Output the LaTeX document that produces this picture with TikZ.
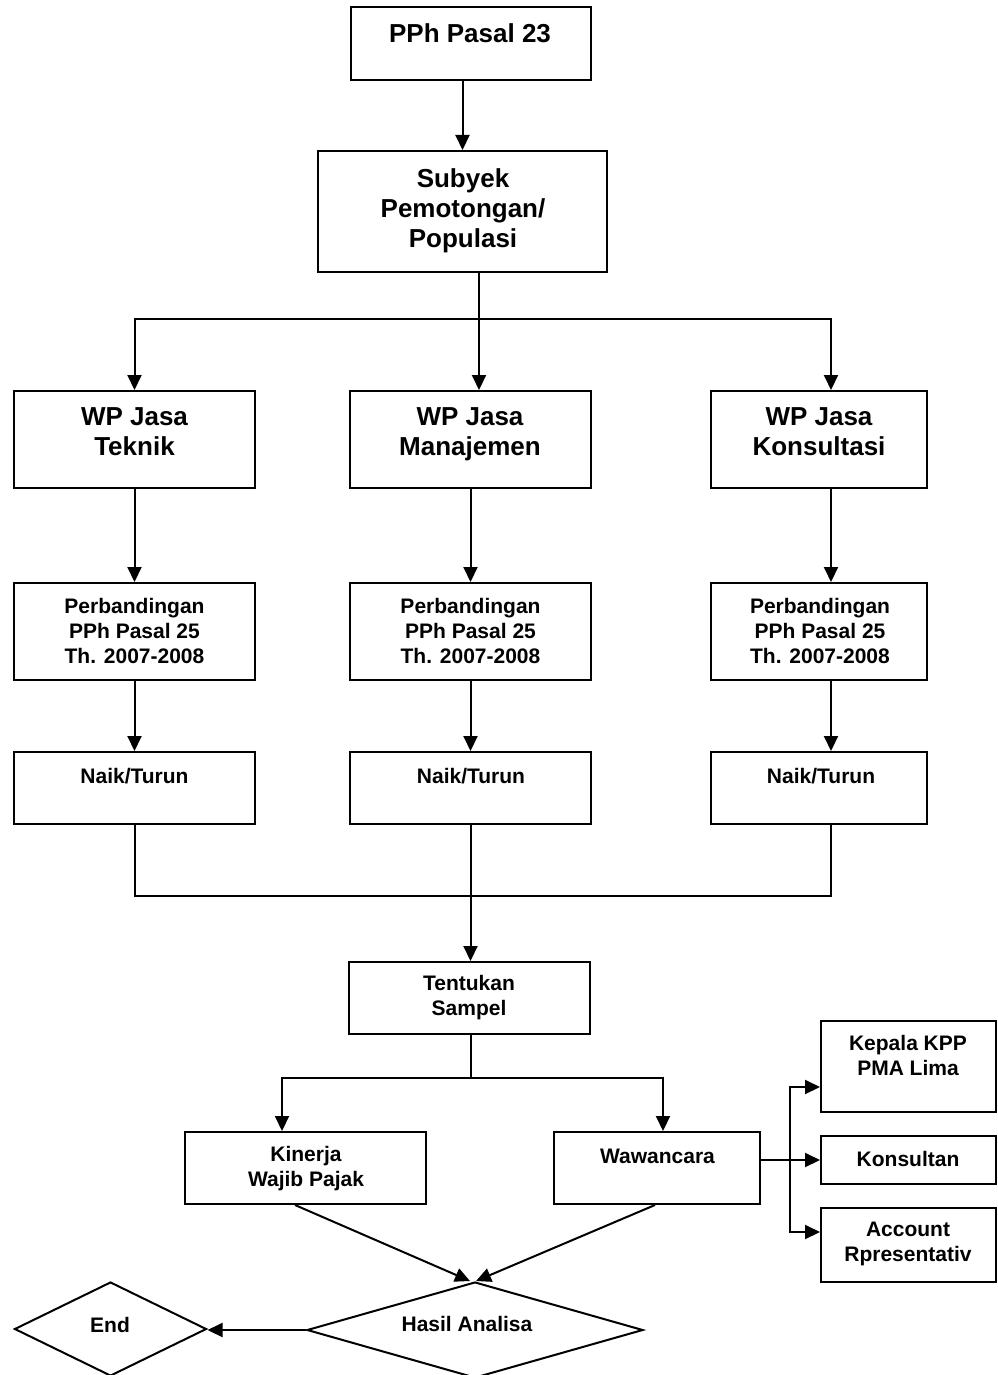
\documentclass[tikz,border=0pt]{standalone}
\usepackage{fontspec}
\setmainfont{Liberation Sans}
\usetikzlibrary{arrows.meta,shapes.geometric}
\begin{document}
\begin{tikzpicture}[x=1pt,y=-1pt,
  box/.style={draw, line width=2pt, rectangle, inner sep=0pt},
  dia/.style={draw, line width=2pt, diamond, inner sep=0pt},
  bigtxt/.style={font=\bfseries\fontsize{26}{30}\selectfont, align=center, inner sep=0pt,
    execute at begin node=\strut, execute at end node=\strut},
  smalltxt/.style={font=\bfseries\fontsize{21}{25}\selectfont, align=center, inner sep=0pt,
    execute at begin node=\strut, execute at end node=\strut},
  conn/.style={line width=2pt},
  arr/.style={line width=2pt, -{Triangle[length=15pt,width=14pt]}}]
\useasboundingbox (0,0) rectangle (997,1375);

% boxes
\node[box, minimum width=240pt, minimum height=73pt] (pph) at (471,43.5) {};
\node[box, minimum width=289pt, minimum height=121pt] (sub) at (462.5,211.5) {};
\node[box, minimum width=241pt, minimum height=97pt] (wp1) at (134.5,439.5) {};
\node[box, minimum width=241pt, minimum height=97pt] (wp2) at (470.5,439.5) {};
\node[box, minimum width=216pt, minimum height=97pt] (wp3) at (819,439.5) {};
\node[box, minimum width=241pt, minimum height=97pt] (pb1) at (134.5,631.5) {};
\node[box, minimum width=241pt, minimum height=97pt] (pb2) at (470.5,631.5) {};
\node[box, minimum width=216pt, minimum height=97pt] (pb3) at (819,631.5) {};
\node[box, minimum width=241pt, minimum height=72pt] (nt1) at (134.5,788) {};
\node[box, minimum width=241pt, minimum height=72pt] (nt2) at (470.5,788) {};
\node[box, minimum width=216pt, minimum height=72pt] (nt3) at (819,788) {};
\node[box, minimum width=241pt, minimum height=72pt] (tent) at (469.5,998) {};
\node[box, minimum width=241pt, minimum height=72pt] (kin) at (305.5,1168) {};
\node[box, minimum width=206pt, minimum height=72pt] (waw) at (657,1168) {};
\node[box, minimum width=175pt, minimum height=91pt] (kep) at (908.5,1066.5) {};
\node[box, minimum width=175pt, minimum height=48pt] (kon) at (908.5,1160) {};
\node[box, minimum width=175pt, minimum height=74pt] (acc) at (908.5,1245) {};
\node[dia, minimum width=336pt, minimum height=96pt] (has) at (475,1330) {};
\node[dia, minimum width=192pt, minimum height=94pt] (end) at (110.5,1329) {};

% texts
\node[bigtxt] (pph-t) at (470,37) {PPh Pasal 23};
\node[bigtxt] (sub-t) at (463,212.3) {Subyek\\Pemotongan/\\Populasi};
\node[bigtxt] (wp1-t) at (134.5,435.7) {WP Jasa\\Teknik};
\node[bigtxt] (wp2-t) at (470,435.7) {WP Jasa\\Manajemen};
\node[bigtxt] (wp3-t) at (819,435.7) {WP Jasa\\Konsultasi};
\node[smalltxt] (pb1-t) at (134.5,634.2) {Perbandingan\\PPh Pasal 25\\Th. 2007-2008};
\node[smalltxt] (pb2-t) at (470.5,634.2) {Perbandingan\\PPh Pasal 25\\Th. 2007-2008};
\node[smalltxt] (pb3-t) at (820,634.2) {Perbandingan\\PPh Pasal 25\\Th. 2007-2008};
\node[smalltxt] (nt1-t) at (134.5,778.3) {Naik/Turun};
\node[smalltxt] (nt2-t) at (471,778.3) {Naik/Turun};
\node[smalltxt] (nt3-t) at (821,778.3) {Naik/Turun};
\node[smalltxt] (tent-t) at (469,999.2) {Tentukan\\Sampel};
\node[smalltxt] (kin-t) at (306,1169.7) {Kinerja\\Wajib Pajak};
\node[smalltxt] (waw-t) at (657.5,1158.3) {Wawancara};
\node[smalltxt] (kep-t) at (908,1059.2) {Kepala KPP\\PMA Lima};
\node[smalltxt] (kon-t) at (908,1161.7) {Konsultan};
\node[smalltxt] (acc-t) at (908,1246) {Account\\Rpresentativ};
\node[smalltxt] (has-t) at (467,1326.7) {Hasil Analisa};
\node[smalltxt] (end-t) at (110,1327.7) {End};

% connectors
\draw[arr] (pph.south -| sub.north) -- (sub.north);
\coordinate (h1) at (479,319);
\draw[conn] (sub.south -| h1) -- (h1);
\draw[arr] (h1) -| (wp1.north);
\draw[arr] (h1) -- (h1 |- wp2.north);
\draw[arr] (h1) -| (wp3.north -| 831,0);

\draw[arr] (wp1.south) -- (pb1.north);
\draw[arr] (wp2.south) -- (pb2.north);
\draw[arr] (wp3.south -| 831,0) -- (pb3.north -| 831,0);
\draw[arr] (pb1.south) -- (nt1.north);
\draw[arr] (pb2.south) -- (nt2.north);
\draw[arr] (pb3.south -| 831,0) -- (nt3.north -| 831,0);

\coordinate (h2) at (470.5,896);
\draw[conn] (nt1.south) |- (h2) -| (nt3.south -| 831,0);
\draw[arr] (nt2.south) -- (nt2.south |- tent.north);

\coordinate (h3) at (471,1078);
\draw[conn] (tent.south -| h3) -- (h3);
\draw[arr] (h3) -| (kin.north -| 282,0);
\draw[arr] (h3) -| (waw.north -| 663,0);

\draw[arr] (waw.east |- kon.west) -- (kon.west);
\coordinate (bx) at (790,1160);
\draw[arr] (bx) |- (kep.west |- 0,1087);
\draw[arr] (bx) |- (acc.west |- 0,1232);

\draw[arr] (kin.south -| 295,0) -- (has.north -| 470,0);
\draw[arr] (waw.south -| 655,0) -- (has.north -| 476,0);
\draw[arr] (has.west) -- (has.west -| end.east);
\end{tikzpicture}
\end{document}
